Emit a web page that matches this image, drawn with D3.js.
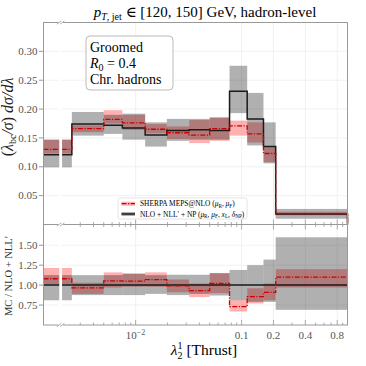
<!DOCTYPE html>
<html>
<head>
<meta charset="utf-8">
<script src="https://cdn.jsdelivr.net/npm/d3@7"></script>
<style>
  body { margin: 0; background: #fff; }
  svg text { font-family: "Liberation Serif", "DejaVu Serif", serif; }
</style>
</head>
<body>
<div id="chart"></div>
<script>
// bin edges in lambda (first bin is the underflow bin, drawn from the axis start)
var binEdges = [0.0025, 0.005, 0.0075, 0.0123, 0.0197, 0.032, 0.05, 0.077, 0.113, 0.161, 0.21, 1.0];
var xMin = 0.00135, xBreak = 0.00196;

// NLO + NLL' + NP (black, gray band)
var nllVal = [0.121, 0.174, 0.172, 0.167, 0.155, 0.163, 0.164, 0.163, 0.231, 0.183, 0.135, 0.018];
var nllLo  = [0.099, 0.154, 0.157, 0.147, 0.135, 0.145, 0.147, 0.147, 0.193, 0.137, 0.106, 0.010];
var nllHi  = [0.147, 0.195, 0.190, 0.192, 0.177, 0.183, 0.183, 0.185, 0.275, 0.228, 0.177, 0.027];

// SHERPA MEPS@NLO (red, pink band)
var mcVal = [0.130, 0.166, 0.182, 0.176, 0.165, 0.159, 0.155, 0.166, 0.171, 0.157, 0.123, 0.019];
var mcLo  = [0.123, 0.160, 0.175, 0.164, 0.158, 0.148, 0.141, 0.145, 0.154, 0.142, 0.108, 0.016];
var mcHi  = [0.147, 0.172, 0.198, 0.190, 0.174, 0.170, 0.181, 0.186, 0.180, 0.177, 0.134, 0.022];

// ratio panel MC / NLO+NLL'
var ratioMc    = [1.08, 0.965, 1.054, 1.05, 1.07, 0.99, 0.93, 1.02, 0.73, 0.855, 0.91, 1.10];
var ratioMcLo  = [1.01, 0.89, 0.97, 0.98, 0.98, 0.91, 0.85, 0.90, 0.67, 0.77, 0.81, 0.97];
var ratioMcHi  = [1.215, 1.03, 1.16, 1.14, 1.16, 1.07, 1.02, 1.15, 0.81, 0.96, 1.02, 1.20];
var ratioNllLo = [0.81, 0.875, 0.875, 0.875, 0.89, 0.875, 0.89, 0.87, 0.81, 0.79, 0.79, 0.69];
var ratioNllHi = [1.125, 1.125, 1.125, 1.146, 1.125, 1.13, 1.13, 1.15, 1.19, 1.25, 1.32, 1.60];

var topTicks = [0.05, 0.10, 0.15, 0.20, 0.25, 0.30];
var ratioTicks = [0.75, 1.00, 1.25, 1.50];
var xLabelTicks = [0.01, 0.1, 0.2, 0.4, 0.8];

var W = 366, H = 366;
var left = 43.5, right = 347.5, top1 = 22.5, split = 224.5, bottom = 325;
var frameCol = '#999';

var svg = d3.select('#chart').append('svg').attr('width', W).attr('height', H);

var x = d3.scaleLog().domain([xMin, 1]).range([left, right]);
var yTop = d3.scaleLinear().domain([0, 0.35]).range([split, top1]);
var yRat = d3.scaleLinear().domain([0.5, 1.76]).range([bottom, split]);

function binLeft(i) { return i == 0 ? xMin : binEdges[i - 1]; }
function binRight(i) { return binEdges[i]; }

function stepPoints(vals, dropToZero) {
    var pts = [];
    vals.forEach(function (v, i) {
        pts.push([binLeft(i), v]);
        pts.push([binRight(i), v]);
    });
    if (dropToZero) pts.push([binEdges[binEdges.length - 1], 0]);
    return pts;
}

function drawPanel(g, y, yTicks, d) {
    // grid
    g.selectAll('line.hgrid').data(yTicks).enter().append('line')
        .attr('x1', left).attr('x2', right)
        .attr('y1', function (t) { return y(t); }).attr('y2', function (t) { return y(t); })
        .attr('stroke', '#eee').attr('stroke-width', 0.8);
    g.selectAll('line.vgrid').data(xLabelTicks).enter().append('line')
        .attr('x1', function (t) { return x(t); }).attr('x2', function (t) { return x(t); })
        .attr('y1', y.range()[0]).attr('y2', y.range()[1])
        .attr('stroke', '#eee').attr('stroke-width', 0.8);

    // pink band (MC) then gray band (theory)
    g.selectAll('rect.mc').data(d.mcLo).enter().append('rect')
        .attr('x', function (v, i) { return x(binLeft(i)); })
        .attr('width', function (v, i) { return x(binRight(i)) - x(binLeft(i)); })
        .attr('y', function (v, i) { return y(d.mcHi[i]); })
        .attr('height', function (v, i) { return y(v) - y(d.mcHi[i]); })
        .attr('fill', 'rgba(255,40,40,0.36)');
    g.selectAll('rect.nll').data(d.nllLo).enter().append('rect')
        .attr('x', function (v, i) { return x(binLeft(i)); })
        .attr('width', function (v, i) { return x(binRight(i)) - x(binLeft(i)); })
        .attr('y', function (v, i) { return y(d.nllHi[i]); })
        .attr('height', function (v, i) { return y(v) - y(d.nllHi[i]); })
        .attr('fill', 'rgba(0,0,0,0.31)');

    var line = d3.line().x(function (p) { return x(p[0]); }).y(function (p) { return y(p[1]); });
    g.append('path').attr('d', line(d.nllLine)).attr('fill', 'none')
        .attr('stroke', '#1a1a1a').attr('stroke-width', 1.5);
    g.append('path').attr('d', line(d.mcLine)).attr('fill', 'none')
        .attr('stroke', '#cc0000').attr('stroke-width', 1.3)
        .attr('stroke-dasharray', '5,1.5,1.2,1.5');

    // axis break gap
    g.append('rect').attr('x', x(xBreak) - 1.4).attr('width', 2.8)
        .attr('y', y.range()[1] + 0.5).attr('height', y.range()[0] - y.range()[1] - 1)
        .attr('fill', '#fff');

    // y ticks and labels
    var yt = g.selectAll('g.ytick').data(yTicks).enter().append('g')
        .attr('transform', function (t) { return 'translate(0,' + y(t) + ')'; });
    yt.append('line').attr('x1', left - 4.5).attr('x2', left).attr('stroke', frameCol);
    yt.append('text').attr('x', left - 6).attr('dy', '0.33em').attr('text-anchor', 'end')
        .attr('font-size', 11).attr('fill', '#555')
        .text(function (t) { return t.toFixed(2); });
}

// minor + major x ticks
var xTicksAll = [];
[0.001, 0.01, 0.1].forEach(function (dec) {
    for (var k = 1; k <= 9; k++) {
        var v = dec * k;
        if (v >= 0.0029 && v <= 1) xTicksAll.push(v);
    }
});

function xTicks(yPos, dir) {
    svg.append('g').selectAll('line').data(xTicksAll).enter().append('line')
        .attr('x1', function (t) { return x(t); }).attr('x2', function (t) { return x(t); })
        .attr('y1', yPos)
        .attr('y2', function (t) {
            var major = xLabelTicks.indexOf(+t.toPrecision(3)) >= 0;
            return yPos + dir * (major ? 5 : 2.5);
        })
        .attr('stroke', frameCol).attr('stroke-width', 0.8);
}

var gTop = svg.append('g');
drawPanel(gTop, yTop, topTicks, {
    mcLo: mcLo, mcHi: mcHi, nllLo: nllLo, nllHi: nllHi,
    nllLine: stepPoints(nllVal, true), mcLine: stepPoints(mcVal, true)
});

var gRat = svg.append('g');
drawPanel(gRat, yRat, ratioTicks, {
    mcLo: ratioMcLo, mcHi: ratioMcHi, nllLo: ratioNllLo, nllHi: ratioNllHi,
    nllLine: [[xMin, 1], [1, 1]], mcLine: stepPoints(ratioMc, false)
});

// frames
svg.append('rect').attr('x', left).attr('y', top1).attr('width', right - left).attr('height', split - top1)
    .attr('fill', 'none').attr('stroke', frameCol).attr('stroke-width', 1);
svg.append('rect').attr('x', left).attr('y', split).attr('width', right - left).attr('height', bottom - split)
    .attr('fill', 'none').attr('stroke', frameCol).attr('stroke-width', 1);

xTicks(split, -1);
xTicks(split, 1);
xTicks(bottom, -1);

// break marks
[top1, split, bottom].forEach(function (yy) {
    var bx = x(xBreak);
    svg.append('rect').attr('x', bx - 2.5).attr('y', yy - 1).attr('width', 5).attr('height', 2).attr('fill', '#fff');
    [-1.6, 1.6].forEach(function (o) {
        svg.append('line').attr('x1', bx + o - 2.2).attr('y1', yy + 1.6)
            .attr('x2', bx + o + 2.2).attr('y2', yy - 1.6)
            .attr('stroke', frameCol).attr('stroke-width', 0.8);
    });
});

// x tick labels
var xl = svg.append('g').selectAll('text').data(xLabelTicks).enter().append('text')
    .attr('x', function (t) { return x(t); }).attr('y', bottom + 14)
    .attr('text-anchor', 'middle').attr('font-size', 11).attr('fill', '#555');
xl.each(function (t) {
    var s = d3.select(this);
    if (t == 0.01) {
        s.append('tspan').text('10');
        s.append('tspan').attr('dy', -4).attr('font-size', 8).text('\u22122');
    } else {
        s.text(String(t));
    }
});

// title
var title = svg.append('text').attr('x', 205).attr('y', 17).attr('text-anchor', 'middle').attr('font-size', 15);
title.append('tspan').attr('font-style', 'italic').text('p');
title.append('tspan').attr('dy', 3).attr('font-size', 10).attr('font-style', 'italic').text('T');
title.append('tspan').attr('font-size', 10).text(', jet');
title.append('tspan').attr('dy', -3).text(' \u2208 [120, 150] GeV, hadron-level');

// y labels
var yl = svg.append('text').attr('transform', 'translate(13,117) rotate(-90)')
    .attr('text-anchor', 'middle').attr('font-size', 16).attr('fill', '#222');
yl.append('tspan').text('(');
yl.append('tspan').attr('font-style', 'italic').text('\u03bb');
yl.append('tspan').attr('dy', 3).attr('font-size', 10).text('bc');
yl.append('tspan').attr('dy', -3).attr('font-style', 'italic').text('/\u03c3');
yl.append('tspan').text(') ');
yl.append('tspan').attr('font-style', 'italic').text('d\u03c3/d\u03bb');

svg.append('text').attr('transform', 'translate(12,276) rotate(-90)')
    .attr('text-anchor', 'middle').attr('font-size', 10.5).attr('fill', '#333')
    .text('MC / NLO + NLL\u2032');

// x label
var xlab = svg.append('text').attr('x', 204).attr('y', 355).attr('text-anchor', 'middle').attr('font-size', 15.5);
xlab.append('tspan').attr('font-style', 'italic').text('\u03bb');
xlab.append('tspan').attr('dy', 4).attr('font-size', 10).text('2');
xlab.append('tspan').attr('dx', -5).attr('dy', -10).attr('font-size', 10).text('1');
xlab.append('tspan').attr('dy', 6).text(' [Thrust]');

// text box
svg.append('rect').attr('x', 86).attr('y', 36).attr('width', 87).attr('height', 54).attr('rx', 4)
    .attr('fill', '#fff').attr('stroke', '#bbb').attr('stroke-width', 1);
svg.append('text').attr('x', 90).attr('y', 52).attr('font-size', 14).text('Groomed');
var r0 = svg.append('text').attr('x', 90).attr('y', 68).attr('font-size', 14);
r0.append('tspan').attr('font-style', 'italic').text('R');
r0.append('tspan').attr('dy', 3).attr('font-size', 10).text('0');
r0.append('tspan').attr('dy', -3).text(' = 0.4');
svg.append('text').attr('x', 90).attr('y', 84).attr('font-size', 14).text('Chr. hadrons');

// legend
var lg = svg.append('g');
lg.append('rect').attr('x', 118).attr('y', 198).attr('width', 129).attr('height', 21).attr('rx', 2)
    .attr('fill', '#fff').attr('stroke', '#ddd').attr('stroke-width', 0.8);
lg.append('rect').attr('x', 121.5).attr('y', 201.7).attr('width', 13.5).attr('height', 4).attr('fill', 'rgba(255,40,40,0.36)');
lg.append('line').attr('x1', 121.5).attr('x2', 135).attr('y1', 203.7).attr('y2', 203.7)
    .attr('stroke', '#cc0000').attr('stroke-width', 1.3).attr('stroke-dasharray', '5,1.5,1.2,1.5');
lg.append('rect').attr('x', 121.5).attr('y', 212).attr('width', 13.5).attr('height', 4).attr('fill', 'rgba(0,0,0,0.31)');
lg.append('line').attr('x1', 121.5).attr('x2', 135).attr('y1', 214).attr('y2', 214)
    .attr('stroke', '#1a1a1a').attr('stroke-width', 1.5);

var l1 = lg.append('text').attr('x', 140).attr('y', 206.2).attr('font-size', 7.4);
l1.append('tspan').text('SHERPA MEPS@NLO (');
l1.append('tspan').attr('font-style', 'italic').text('\u03bc');
l1.append('tspan').attr('dy', 1.6).attr('font-size', 5.2).text('R');
l1.append('tspan').attr('dy', -1.6).text(', ');
l1.append('tspan').attr('font-style', 'italic').text('\u03bc');
l1.append('tspan').attr('dy', 1.6).attr('font-size', 5.2).text('F');
l1.append('tspan').attr('dy', -1.6).text(')');

var l2 = lg.append('text').attr('x', 140).attr('y', 216.5).attr('font-size', 7.4);
l2.append('tspan').text('NLO + NLL\u2032 + NP (');
[['\u03bc', 'R'], ['\u03bc', 'F'], ['x', 'L'], ['\u03b4', 'NP']].forEach(function (p, i) {
    l2.append('tspan').attr('font-style', 'italic').text(p[0]);
    l2.append('tspan').attr('dy', 1.6).attr('font-size', 5.2).text(p[1]);
    l2.append('tspan').attr('dy', -1.6).text(i < 3 ? ', ' : ')');
});
</script>
</body>
</html>
